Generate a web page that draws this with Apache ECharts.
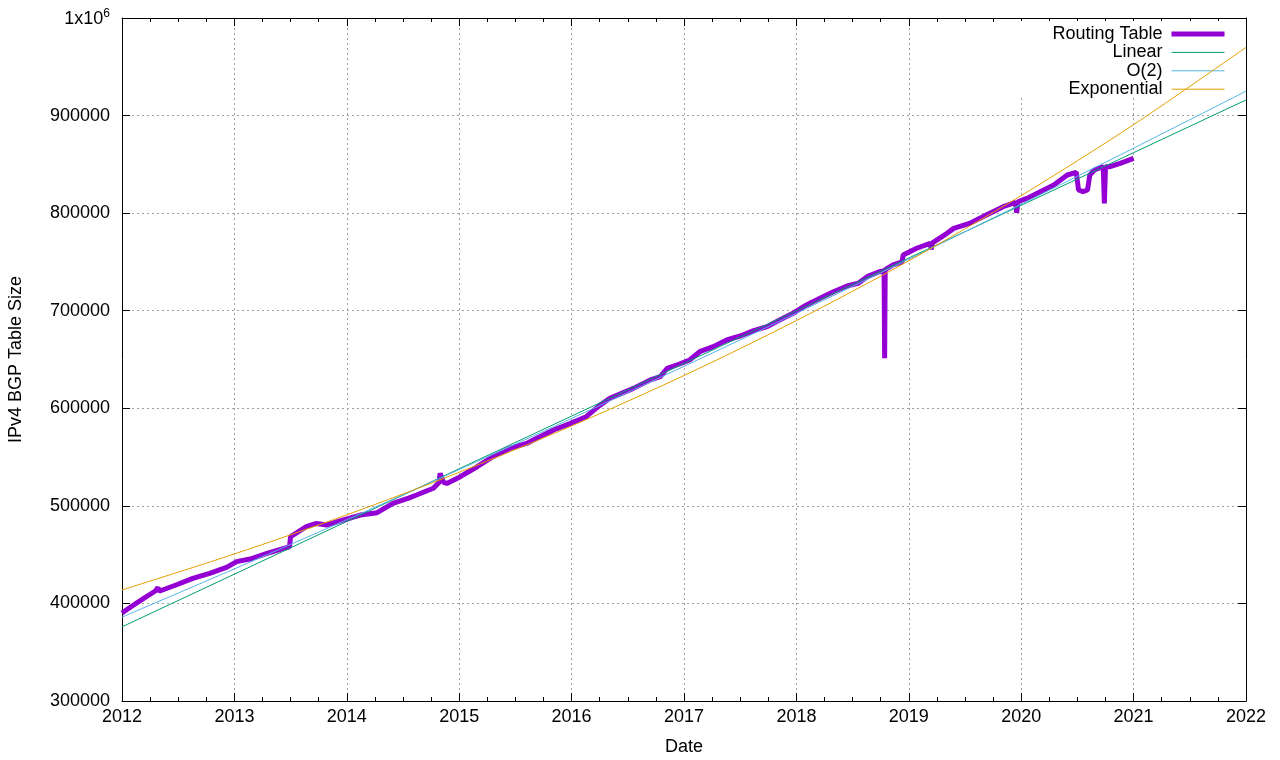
<!DOCTYPE html>
<html>
<head>
<meta charset="utf-8">
<script src="https://cdn.jsdelivr.net/npm/echarts@6/dist/echarts.min.js"></script>
<style>
html,body{margin:0;padding:0;background:#fff;}
#c{width:1280px;height:760px;}
</style>
</head>
<body>
<div id="c"></div>
<script>
// Routing table (decimal year, table size)
const rtYears = [2012.00,2012.08,2012.19,2012.30,2012.32,2012.33,2012.48,2012.63,2012.78,2012.93,
  2013.02,2013.14,2013.29,2013.44,2013.49,2013.50,2013.64,2013.73,2013.82,2013.97,
  2014.12,2014.27,2014.41,2014.55,2014.62,2014.77,2014.82,2014.83,2014.86,2014.89,
  2015.01,2015.16,2015.30,2015.45,2015.60,2015.69,2015.84,2015.99,
  2016.13,2016.25,2016.34,2016.55,2016.70,2016.79,2016.85,2016.96,
  2017.05,2017.14,2017.26,2017.38,2017.50,2017.62,2017.74,2017.85,2017.97,
  2018.09,2018.21,2018.33,2018.45,2018.55,2018.63,2018.74,2018.78,2018.785,2018.79,2018.86,2018.94,2018.95,
  2019.07,2019.19,2019.20,2019.21,2019.34,2019.40,2019.54,2019.69,2019.84,2019.95,2019.96,2019.97,
  2020.05,2020.17,2020.29,2020.41,2020.49,2020.51,2020.55,2020.59,2020.61,2020.65,2020.73,2020.74,2020.75,2020.79,2020.88,2021.00];
const rtValues = [390200,396600,405000,413000,416500,412500,418900,425700,430800,437000,
  442800,445500,451400,456500,458100,468400,478600,482000,480400,485500,
  490600,493000,502500,508000,511100,518000,524000,533300,524000,523000,
  529900,540100,550400,558900,564000,569200,577700,584500,
  591400,603000,610200,620400,629000,632400,641000,645400,
  649500,658000,663200,670000,674100,679600,683700,690500,697400,
  705900,712700,719500,725300,728100,734900,740000,741000,651200,742000,746900,750000,757100,
  764000,769100,763000,769500,779300,784400,789500,798100,806600,811000,800500,811700,
  815100,822000,828800,839100,841800,823700,822000,823700,839000,844200,847600,810000,847600,847600,851000,856100];

// Fit curves, read at each year
const fitYears   = [2012,2013,2014,2015,2016,2017,2018,2019,2020,2021,2022];
const linearVals = [376000,430000,484000,538000,592000,646000,700000,754000,808000,862000,916000];
const o2Vals     = [386000,435400,485800,537200,589600,643000,697400,752800,809200,866600,925000];
const expVals    = [413800,450700,490800,534400,581900,633600,689900,751200,818000,890700,969900];

const xTicks = [2012,2013,2014,2015,2016,2017,2018,2019,2020,2021,2022];
const yTicks = [300000,400000,500000,600000,700000,800000,900000,1000000];

const zip = (xs, ys) => xs.map((x, i) => [x, ys[i]]);
const FONT = 'Liberation Sans, Arial, sans-serif';
const FS = 18;

const chart = echarts.init(document.getElementById('c'), null, {renderer: 'canvas'});
const gridLine = {show: true, lineStyle: {color: '#a0a0a0', type: [2, 3], width: 1}};
const axisLine = {show: true, onZero: false, lineStyle: {color: '#000', width: 1}};

chart.setOption({
  animation: false,
  backgroundColor: '#fff',
  textStyle: {fontFamily: FONT},
  grid: {left: 122, right: 34, top: 18, bottom: 59, containLabel: false, outerBoundsMode: 'none'},
  graphic: [{
    type: 'rect', z: 1, silent: true,
    shape: {x: 1008, y: 21, width: 236, height: 75},
    style: {fill: '#fff'}
  }],
  legend: {
    orient: 'vertical', right: 53, top: 25, align: 'right', padding: 0,
    itemWidth: 53, itemHeight: 18, itemGap: 0.4,
    itemStyle: {opacity: 0},
    textStyle: {fontSize: FS, color: '#000', fontFamily: FONT, padding: [0, 4, 0, 0]},
    data: [
      {name: 'Routing Table', lineStyle: {width: 5}},
      {name: 'Linear', lineStyle: {width: 1}},
      {name: 'O(2)', lineStyle: {width: 1}},
      {name: 'Exponential', lineStyle: {width: 1}}
    ]
  },
  xAxis: [{
    type: 'value', min: 2012, max: 2022, interval: 1,
    name: 'Date', nameLocation: 'middle', nameGap: 37,
    nameTextStyle: {fontSize: FS, color: '#000', fontFamily: FONT},
    axisLine: axisLine,
    axisTick: {show: true, inside: true, length: 8, lineStyle: {color: '#000'}},
    minorTick: {show: true, splitNumber: 4, length: 4, lineStyle: {color: '#000'}},
    axisLabel: {fontSize: FS, color: '#000', margin: 7, fontFamily: FONT,
      formatter: v => String(Math.round(v))},
    splitLine: gridLine
  }, {
    type: 'value', min: 2012, max: 2022, interval: 1, position: 'top',
    axisLine: axisLine,
    axisTick: {show: true, inside: true, length: 8, lineStyle: {color: '#000'}},
    minorTick: {show: true, splitNumber: 4, length: 4, lineStyle: {color: '#000'}},
    axisLabel: {show: false}, splitLine: {show: false}
  }],
  yAxis: [{
    type: 'value', min: 300000, max: 1000000, interval: 100000,
    name: 'IPv4 BGP Table Size', nameLocation: 'middle', nameGap: 97,
    nameTextStyle: {fontSize: FS, color: '#000', fontFamily: FONT},
    axisLine: axisLine,
    axisTick: {show: true, inside: true, length: 8, lineStyle: {color: '#000'}},
    axisLabel: {
      fontSize: FS, color: '#000', margin: 12, fontFamily: FONT,
      formatter: v => v === 1000000 ? '{b|1x10}{s|6}' : String(v),
      rich: {
        b: {fontSize: FS, color: '#000', fontFamily: FONT, verticalAlign: 'bottom', lineHeight: 20},
        s: {fontSize: 12, color: '#000', fontFamily: FONT, verticalAlign: 'top', lineHeight: 20}
      }
    },
    splitLine: gridLine
  }, {
    type: 'value', min: 300000, max: 1000000, interval: 100000, position: 'right',
    axisLine: axisLine,
    axisTick: {show: true, inside: true, length: 8, lineStyle: {color: '#000'}},
    axisLabel: {show: false}, splitLine: {show: false}
  }],
  series: [
    {name: 'Routing Table', type: 'line', data: zip(rtYears, rtValues), showSymbol: false, symbol: 'none',
      color: '#9400d3', lineStyle: {width: 5, color: '#9400d3', join: 'bevel', cap: 'butt'}, z: 3},
    {name: 'Linear', type: 'line', data: zip(fitYears, linearVals), showSymbol: false, symbol: 'none',
      color: '#009e73', lineStyle: {width: 1, color: '#009e73'}, z: 4},
    {name: 'O(2)', type: 'line', data: zip(fitYears, o2Vals), showSymbol: false, symbol: 'none', smooth: 0.3,
      color: '#56b4e9', lineStyle: {width: 1, color: '#56b4e9'}, z: 4},
    {name: 'Exponential', type: 'line', data: zip(fitYears, expVals), showSymbol: false, symbol: 'none', smooth: 0.3,
      color: '#e69f00', lineStyle: {width: 1, color: '#e69f00'}, z: 4}
  ]
});
</script>
</body>
</html>
